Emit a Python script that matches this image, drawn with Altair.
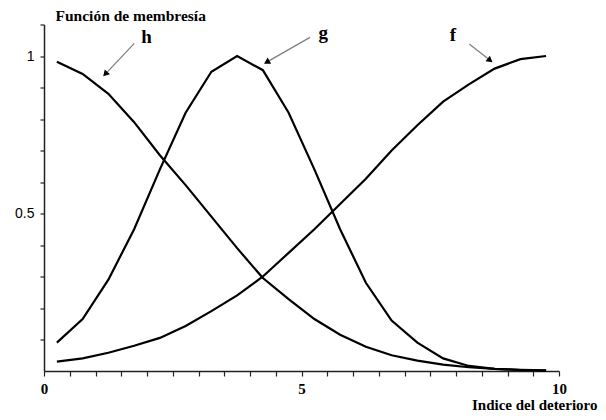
import altair as alt
import pandas as pd

# ---- data ----
x_vals = [0.25, 0.75, 1.25, 1.75, 2.25, 2.75, 3.25, 3.75, 4.25, 4.75,
          5.25, 5.75, 6.25, 6.75, 7.25, 7.75, 8.25, 8.75, 9.25, 9.75]
f_vals = [0.03, 0.04, 0.058, 0.08, 0.105, 0.143, 0.19, 0.24, 0.30, 0.375,
          0.45, 0.53, 0.61, 0.70, 0.78, 0.855, 0.91, 0.96, 0.99, 1.0]
g_vals = [0.09, 0.165, 0.29, 0.45, 0.64, 0.82, 0.95, 1.0, 0.955, 0.82,
          0.64, 0.45, 0.28, 0.16, 0.09, 0.04, 0.016, 0.007, 0.003, 0.001]
h_vals = [0.982, 0.943, 0.88, 0.79, 0.685, 0.59, 0.49, 0.39, 0.295, 0.228,
          0.165, 0.115, 0.077, 0.05, 0.033, 0.02, 0.012, 0.007, 0.004, 0.002]

x_ticks = [0, 0.5, 1, 1.5, 2, 2.5, 3, 3.5, 4, 4.5, 5, 5.5, 6, 6.5, 7, 7.5,
           8, 8.5, 9, 9.5, 10]
y_ticks = [0.1, 0.2, 0.3, 0.4, 0.5, 0.6, 0.7, 0.8, 0.9, 1, 1.1]

# annotation labels and arrows (data coordinates)
ann_names = ["h", "g", "f"]
ann_label_x = [1.99, 5.42, 7.94]
ann_label_y = [1.059, 1.073, 1.067]
arrow_x1 = [1.753, 5.165, 8.258]
arrow_y1 = [1.040, 1.059, 1.038]
arrow_x2 = [1.204, 4.342, 8.647]
arrow_y2 = [0.945, 0.982, 0.988]
arrow_angle = [223, 240, 128]

rows = []
for name, vals in (("f", f_vals), ("g", g_vals), ("h", h_vals)):
    for x, y in zip(x_vals, vals):
        rows.append({"curve": name, "x": x, "y": y})
curves = pd.DataFrame(rows)

ann = pd.DataFrame({
    "name": ann_names, "lx": ann_label_x, "ly": ann_label_y,
    "x1": arrow_x1, "y1": arrow_y1, "x2": arrow_x2, "y2": arrow_y2,
    "angle": arrow_angle,
})

SERIF = "Liberation Serif"
SANS = "Liberation Sans"

xscale = alt.Scale(domain=[0, 10], nice=False, zero=False)
yscale = alt.Scale(domain=[0, 1.1], nice=False, zero=False)

x_axis = alt.Axis(
    values=x_ticks,
    labelExpr="abs(datum.value) < 0.01 ? '0' : abs(datum.value - 5) < 0.01 ? '5' : abs(datum.value - 10) < 0.01 ? '10' : ''",
    labelFont=SERIF, labelFontWeight="bold", labelFontSize=15, labelColor="black",
    labelBaseline="middle", labelPadding=12.5, labelFlush=False, labelOverlap=False,
    tickSize=5, tickColor="#222", tickWidth=1.2,
    domainColor="#222", domainWidth=1.5, grid=False,
    title="Indice del deterioro", titleFont=SERIF, titleFontWeight="bold",
    titleFontSize=15, titleColor="black", titleAnchor="end", titleAlign="right",
    titleBaseline="alphabetic", titleX=553, titleY=38.5,
)
y_axis = alt.Axis(
    values=y_ticks,
    labelExpr="abs(datum.value - 1) < 0.01 ? '1' : abs(datum.value - 0.5) < 0.01 ? '0.5' : ''",
    labelFont=SANS, labelFontSize=14, labelColor="black", labelPadding=6,
    labelOverlap=False, labelFlush=False,
    tickSize=4, tickColor="#222", tickWidth=1.2,
    domainColor="#222", domainWidth=1.5, grid=False,
    title="Función de membresía", titleFont=SERIF, titleFontWeight="bold",
    titleFontSize=15.5, titleColor="black", titleAngle=0, titleAlign="left",
    titleBaseline="middle", titleX=11, titleY=-9,
)

lines = alt.Chart(curves).mark_line(color="black", strokeWidth=2.2).encode(
    x=alt.X("x:Q", scale=xscale, axis=x_axis),
    y=alt.Y("y:Q", scale=yscale, axis=y_axis),
    detail="curve:N",
)

arrows = alt.Chart(ann).mark_rule(color="#808080", strokeWidth=1.3).encode(
    x=alt.X("x1:Q", scale=xscale, axis=x_axis),
    y=alt.Y("y1:Q", scale=yscale, axis=y_axis),
    x2="x2:Q",
    y2="y2:Q",
)

heads = alt.Chart(ann).mark_point(
    shape="triangle", filled=True, color="black", opacity=1, size=50
).encode(
    x=alt.X("x2:Q", scale=xscale, axis=x_axis),
    y=alt.Y("y2:Q", scale=yscale, axis=y_axis),
    angle=alt.Angle("angle:Q", scale=None),
)

labels = alt.Chart(ann).mark_text(
    font=SERIF, fontWeight="bold", fontSize=19, color="black", baseline="middle"
).encode(
    x=alt.X("lx:Q", scale=xscale, axis=x_axis),
    y=alt.Y("ly:Q", scale=yscale, axis=y_axis),
    text="name:N",
)

chart = alt.layer(lines, arrows, heads, labels).properties(
    width=515, height=346.5,
    autosize=alt.AutoSizeParams(type="none"),
    padding={"left": 36, "top": 16.5, "right": 39, "bottom": 41},
    background="white",
).configure_view(stroke=None).configure_axis(labelOverlap=False)

chart.save("out.html", embed_options={"renderer": "svg", "actions": False})
